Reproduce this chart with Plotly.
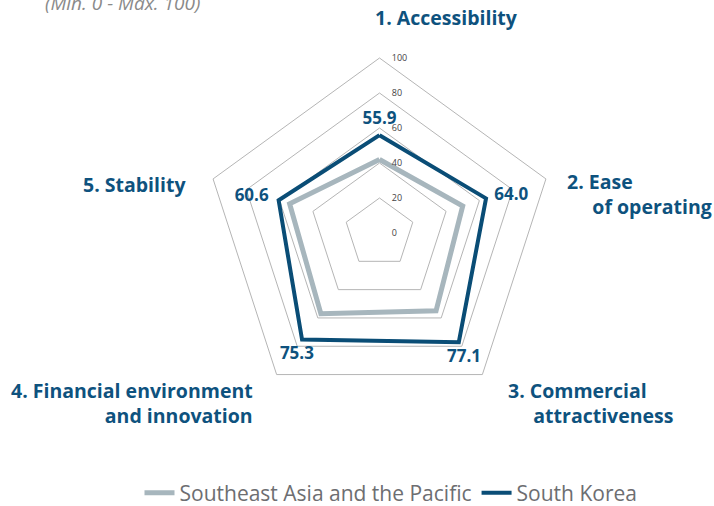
import plotly.graph_objects as go

categories = ["1. Accessibility", "2. Ease of operating", "3. Commercial attractiveness",
              "4. Financial environment and innovation", "5. Stability"]
sea_values = [42, 50, 55, 57, 54]
korea_values = [55.9, 64.0, 77.1, 75.3, 60.6]
radial_ticks = [0, 20, 40, 60, 80, 100]
series_names = ["Southeast Asia and the Pacific", "South Korea"]

W, H = 714, 506
ML, MR, MT, MB = 44.6, 0, 57.7, 98.3
PW, PH = W - ML - MR, H - MT - MB

def px(x):
    return (x - ML) / PW

def py(y):
    return 1 - (y - MT) / PH

DARK = "#0e527e"
SK_COL = "#0a4d76"
SEA_COL = "#a7b6bd"
GRID = "#b5b5b5"
FONT = "Open Sans"

closed = lambda v: list(v) + [v[0]]

# small radial nudge (style) so value labels clear the thick line
label_pad = [4, 5, 5, 5, 6]
label_pos = ["top center", "middle right", "bottom center", "bottom center", "middle left"]

fig = go.Figure()
fig.add_trace(go.Scatterpolar(
    r=closed(sea_values), theta=closed(categories), mode="lines",
    name=series_names[0], line=dict(color=SEA_COL, width=5), hoverinfo="skip"))
fig.add_trace(go.Scatterpolar(
    r=closed(korea_values), theta=closed(categories), mode="lines",
    name=series_names[1], line=dict(color=SK_COL, width=4), hoverinfo="skip"))
fig.add_trace(go.Scatterpolar(
    r=[v + p for v, p in zip(korea_values, label_pad)], theta=categories, mode="text",
    text=[f"{v:.1f}" for v in korea_values],
    textposition=label_pos,
    textfont=dict(family=FONT, size=17, color=DARK, weight="bold"),
    showlegend=False, hoverinfo="skip"))

fig.update_layout(
    width=W, height=H,
    margin=dict(l=ML, r=MR, t=MT, b=MB),
    paper_bgcolor="white", plot_bgcolor="white",
    font=dict(family=FONT, color="#6d6e71"),
    polar=dict(
        bgcolor="white",
        gridshape="linear",
        radialaxis=dict(range=[0, 100], tickvals=radial_ticks, ticktext=[str(t) for t in radial_ticks],
                        showline=False, ticks="outside", ticklen=10, tickcolor="rgba(0,0,0,0)",
                        gridcolor=GRID, gridwidth=1, angle=90,
                        tickangle=90, side="clockwise",
                        tickfont=dict(family=FONT, size=9, color="#444444")),
        angularaxis=dict(rotation=90, direction="clockwise", showticklabels=False,
                         showgrid=False, showline=True, linecolor=GRID, linewidth=1, ticks=""),
    ),
    legend=dict(orientation="h", xref="container", yref="container",
                x=391 / W, xanchor="center", y=1 - 493 / H, yanchor="middle",
                font=dict(family=FONT, size=21, color="#6d6e71"), itemwidth=30),
)

NB = "\u00a0"
ann_font = dict(family=FONT, size=19.5, color=DARK, weight="bold")
labels = [
    ("1. Accessibility", 446, 17, "center", "center"),
    ("2. Ease<br>" + NB * 5 + "of operating", 565, 194, "left", "left"),
    ("3. Commercial<br>" + NB * 5 + "attractiveness", 506, 403, "left", "left"),
    ("4. Financial environment<br>and innovation", 255, 403, "right", "right"),
    ("5. Stability", 188, 184, "right", "right"),
]
for text, x, y, anchor, align in labels:
    fig.add_annotation(text=text, x=px(x), y=py(y), xref="paper", yref="paper",
                       xanchor=anchor, yanchor="middle", align=align, showarrow=False,
                       font=ann_font)

fig.add_annotation(text="<i>(Min. 0 - Max. 100)</i>", x=px(43), y=py(3), xref="paper", yref="paper",
                   xanchor="left", yanchor="middle", showarrow=False,
                   font=dict(family=FONT, size=19, color="#8a8a8a"))

fig.write_html("out.html", config={"displayModeBar": False},
               post_script="document.body.style.margin='0px';")
